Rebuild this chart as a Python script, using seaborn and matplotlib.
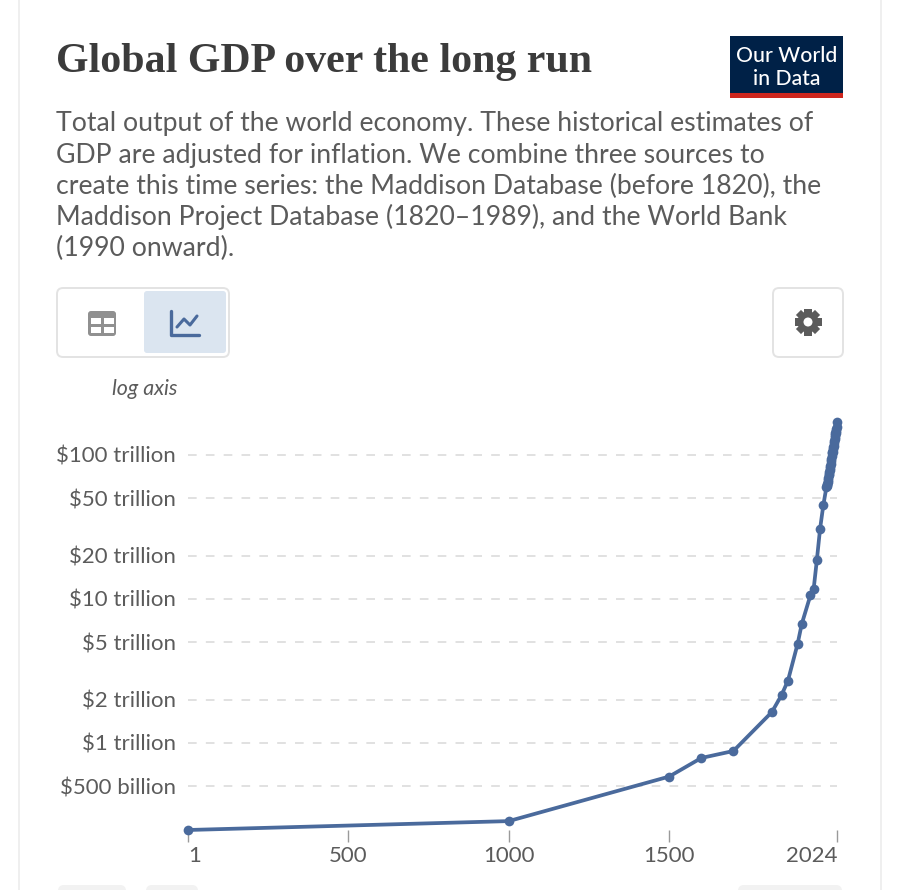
import numpy as np
import pandas as pd
import matplotlib
matplotlib.use("Agg")
import matplotlib.pyplot as plt
from matplotlib.patches import FancyBboxPatch, Rectangle, Circle
import seaborn as sns

# ---- data ----
early_years = [1, 1000, 1500, 1600, 1700, 1820, 1850, 1870, 1900, 1913, 1940, 1950, 1960, 1970, 1980]
early_gdp_trillion = [0.249, 0.287, 0.585, 0.787, 0.88, 1.64, 2.15, 2.71, 4.87, 6.7, 10.6, 11.7, 18.6, 30.6, 44.5]
modern_years = list(range(1990, 2024))
modern_gdp_trillion = [60, 61, 62, 63, 65, 67, 69, 72, 73.5, 76, 79,
                       81, 83, 86, 90, 94, 98, 103, 105, 104, 109,
                       113, 116, 120, 124, 128, 132, 137, 142, 146, 142,
                       151, 157, 170]
x_ticks = [1, 500, 1000, 1500, 2024]
y_ticks = [0.5, 1, 2, 5, 10, 20, 50, 100]
y_labels = ["$500 billion", "$1 trillion", "$2 trillion", "$5 trillion",
            "$10 trillion", "$20 trillion", "$50 trillion", "$100 trillion"]
title = "Global GDP over the long run"
subtitle = ["Total output of the world economy. These historical estimates of",
            "GDP are adjusted for inflation. We combine three sources to",
            "create this time series: the Maddison Database (before 1820), the",
            "Maddison Project Database (1820–1989), and the World Bank",
            "(1990 onward)."]

df = pd.DataFrame({"year": early_years + modern_years,
                   "gdp": early_gdp_trillion + modern_gdp_trillion})

W, H = 900, 890
sns.set_theme(style="white")
plt.rcParams["font.family"] = ["Lato", "DejaVu Sans"]
TXT = "#5b5b5b"
LINE = "#4a6a9c"

fig = plt.figure(figsize=(W / 100, H / 100), dpi=100, facecolor="white")

# overlay for page furniture, in pixel coordinates
bg = fig.add_axes([0, 0, 1, 1], zorder=0)
bg.set_xlim(0, W); bg.set_ylim(H, 0); bg.axis("off")

for xp in (19, 881):
    bg.plot([xp, xp], [0, H], color="#efefef", lw=1.4)

def rbox(x0, y0, x1, y1, r=6, fc="white", ec="#e3e3e3", lw=1.4, ax=bg, z=2):
    p = FancyBboxPatch((x0 + r, y0 + r), x1 - x0 - 2 * r, y1 - y0 - 2 * r,
                       boxstyle=f"round,pad={r},rounding_size={r}",
                       fc=fc, ec=ec, lw=lw, zorder=z)
    ax.add_patch(p)

bg.text(56, 62, title, family="Liberation Serif", weight="bold", fontsize=30.2,
        color="#3b3b3b", va="center", ha="left")
for yy, s in zip([123, 155, 186, 217, 248], subtitle):
    bg.text(56, yy, s, fontsize=19.17, color=TXT, va="center", ha="left")

# logo
bg.add_patch(Rectangle((730, 36), 113, 57, fc="#002147", ec="none"))
bg.add_patch(Rectangle((730, 93), 113, 5, fc="#ce261e", ec="none"))
bg.text(786.5, 56, "Our World", color="white", fontsize=15.2, weight="medium", ha="center", va="center")
bg.text(786.5, 79, "in Data", color="white", fontsize=15.2, weight="medium", ha="center", va="center")

# tab buttons
rbox(57, 288, 229, 357)
rbox(144, 291, 226, 353, r=3, fc="#dbe5f0", ec="none", lw=0, z=3)
rbox(88, 311, 116, 336, r=3, fc="#909090", ec="none", lw=0, z=4)
for cx, cy in [(91, 317.5), (103.5, 317.5), (91, 327), (103.5, 327)]:
    bg.add_patch(Rectangle((cx, cy), 10, 6, fc="white", ec="none", zorder=5))
bg.plot([171, 171, 199], [311, 335, 335], color=LINE, lw=2.4, zorder=5, solid_capstyle="round", solid_joinstyle="round")
bg.plot([177, 184, 190, 197], [327, 319, 325, 316], color=LINE, lw=2.2, zorder=5, solid_capstyle="round")

# settings button with gear
rbox(773, 288, 843, 357)
gc = (808, 322)
for a in np.arange(0, 180, 45):
    t = bg.transData
    rect = Rectangle((gc[0] - 3.6, gc[1] - 13.5), 7.2, 27, fc="#5b5b5b", ec="none", zorder=4,
                     transform=matplotlib.transforms.Affine2D().rotate_deg_around(gc[0], gc[1], a) + t)
    bg.add_patch(rect)
bg.add_patch(Circle(gc, 10.5, fc="#5b5b5b", ec="none", zorder=4))
bg.add_patch(Circle(gc, 4.5, fc="white", ec="none", zorder=5))

bg.text(144.5, 389, "log axis", style="italic", fontsize=15.4, color=TXT, ha="center", va="center")

# faint buttons cut by the bottom edge
rbox(58, 885, 126, 900, fc="#f2f2f2", ec="none", lw=0)
rbox(146, 885, 198, 900, fc="#f2f2f2", ec="none", lw=0)
rbox(738, 885, 842, 900, fc="#f2f2f2", ec="none", lw=0)

# chart
px0, px1 = 188, 837.4
py_top, py_bot = 420.5, 830
ax = fig.add_axes([px0 / W, 1 - py_bot / H, (px1 - px0) / W, (py_bot - py_top) / H],
                  zorder=2, facecolor="none")
sns.lineplot(data=df, x="year", y="gdp", ax=ax, color=LINE, lw=2.7, marker="o",
             markersize=7, markeredgewidth=0, clip_on=False, errorbar=None, zorder=5)
ax.set_yscale("log")
ax.set_xlim(1, 2024)
ax.set_ylim(0.249, 173)
ax.set_xlabel(""); ax.set_ylabel("")
sns.despine(ax=ax, left=True, bottom=True, top=True, right=True)

ax.set_yticks(y_ticks)
ax.set_yticklabels(y_labels)
ax.minorticks_off()
ax.set_yticks([], minor=True)
ax.tick_params(axis="y", length=0, pad=8.5, labelsize=16, labelcolor=TXT)
ax.grid(axis="y", which="major", color="#dcdcdc", lw=1.2, linestyle=(0, (5.2, 5.5)))
ax.set_axisbelow(True)

ax.set_xticks(x_ticks)
ax.set_xticklabels([str(v) for v in x_ticks])
ax.tick_params(axis="x", length=8.6, width=1.0, color="#9a9a9a", pad=3,
               labelsize=16, labelcolor=TXT, bottom=True)
labs = ax.get_xticklabels()
labs[0].set_ha("left")
labs[-1].set_ha("right")

fig.savefig("out.png", dpi=100, facecolor="white")
